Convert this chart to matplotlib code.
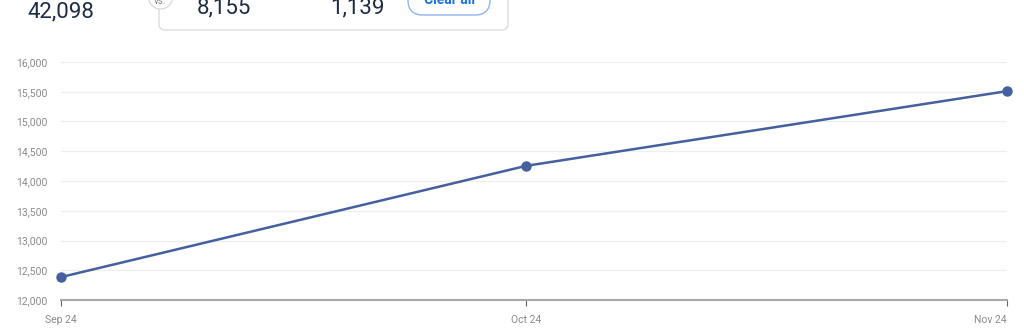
import datetime as dt
import matplotlib.pyplot as plt
from matplotlib.patches import FancyBboxPatch, Circle
from matplotlib.ticker import FuncFormatter

plt.rcParams['font.family'] = ['Roboto', 'DejaVu Sans']

# data
months = [dt.date(2024, 9, 1), dt.date(2024, 10, 1), dt.date(2024, 11, 1)]
month_labels = ["Sep 24", "Oct 24", "Nov 24"]
values = [12385, 14255, 15510]
y_ticks = [12000, 12500, 13000, 13500, 14000, 14500, 15000, 15500, 16000]

total_value = "42,098"
compare_a = "8,155"
compare_b = "1,139"

LINE = "#44609e"
GRID = "#eeeeee"
TICK = "#8a8a8a"
NAVY = "#1e2b47"

fig = plt.figure(figsize=(10.24, 3.36), dpi=100)
ax = fig.add_axes([61 / 1024, 36 / 336, 946 / 1024, 238 / 336])

ax.plot(months, values, color=LINE, lw=1.8, marker="o", ms=6.5, clip_on=False, zorder=3)

ax.set_xlim(months[0], months[-1])
ax.set_ylim(y_ticks[0], y_ticks[-1])
ax.set_yticks(y_ticks)
ax.yaxis.set_major_formatter(FuncFormatter(lambda v, p: f"{int(v):,}"))
ax.set_xticks(months)
ax.set_xticklabels(month_labels)
ax.get_xticklabels()[-1].set_ha("right")  # last label sits inside the chart
ax.grid(axis="y", color=GRID, lw=0.9)
ax.set_axisbelow(True)

for s in ["top", "right", "left"]:
    ax.spines[s].set_visible(False)
ax.spines["bottom"].set_color("#a8a8a8")
ax.spines["bottom"].set_linewidth(1.5)
ax.tick_params(axis="y", length=0, pad=10, labelsize=7.5, labelcolor=TICK)
ax.tick_params(axis="x", length=4, width=0.8, color="#666666", pad=7,
               labelsize=7.5, labelcolor=TICK)

# cropped header widgets at the top
top = 3.36
fig.text(27 / 1024, 1 - 17 / 336, total_value, fontsize=16, color=NAVY, va="baseline")

box = FancyBboxPatch((1.59, top - 0.30), 3.49, 0.6,
                     boxstyle="round,pad=0,rounding_size=0.06",
                     transform=fig.dpi_scale_trans, fc="white", ec="#dcdde2", lw=1.0)
fig.patches.append(box)

circ = Circle((1.605, top + 0.03), 0.12, transform=fig.dpi_scale_trans,
              fc="white", ec="#d8d8d8", lw=0.9)
fig.patches.append(circ)
fig.text(1.605 / 10.24, 1 - 4 / 336, "vs.", fontsize=7, color="#888888",
         ha="center", va="baseline")

fig.text(197 / 1024, 1 - 13 / 336, compare_a, fontsize=16, color=NAVY, va="baseline")
fig.text(330 / 1024, 1 - 13 / 336, compare_b, fontsize=16, color=NAVY, va="baseline")

btn = FancyBboxPatch((4.08, top - 0.15), 0.82, 0.5,
                     boxstyle="round,pad=0,rounding_size=0.15",
                     transform=fig.dpi_scale_trans, fc="white", ec="#8fb3f5", lw=1.0)
fig.patches.append(btn)
fig.text(449 / 1024, 1 - 4 / 336, "Clear all", fontsize=10, color="#1a73e8",
         fontweight="bold", ha="center", va="baseline")

fig.savefig("out.png", dpi=100)
